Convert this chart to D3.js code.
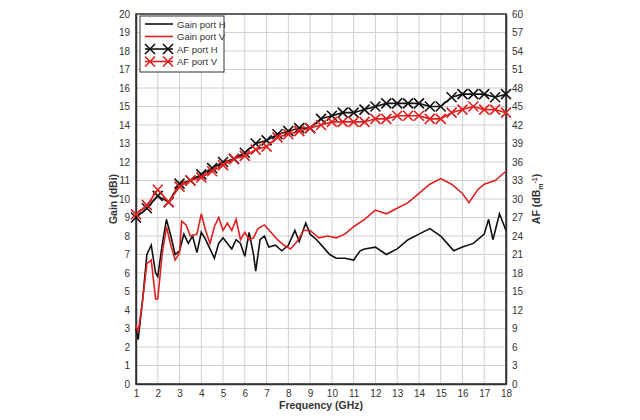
<!DOCTYPE html>
<html><head><meta charset="utf-8">
<script src="https://cdn.jsdelivr.net/npm/d3@7"></script>
<style>body{margin:0;background:#fff}svg{font-family:Arial,"Liberation Sans",sans-serif}</style>
</head><body><svg id="c" width="640" height="420"></svg>
<script>
// gain curves, [GHz, dBi]
var gainH = [[1,3],[1.1,2.4],[1.3,4.5],[1.5,7],[1.7,7.5],[1.9,6],[2,5.8],[2.2,7.5],[2.4,8.9],[2.6,8],[2.8,7],[3,7.2],[3.2,8.1],[3.4,7.6],[3.6,8],[3.8,7.1],[4,8.2],[4.2,7.8],[4.4,7.3],[4.6,6.8],[4.8,7.6],[5,7.9],[5.2,7.6],[5.4,7.3],[5.6,7.8],[5.8,7.6],[6,6.9],[6.2,8.2],[6.4,7],[6.5,6.1],[6.7,7.8],[6.9,8],[7.1,7.4],[7.4,7.5],[7.7,7.2],[8,7.5],[8.3,8.3],[8.5,7.7],[8.8,8.7],[9,8.1],[9.3,7.8],[9.6,7.4],[9.9,7],[10.2,6.8],[10.6,6.8],[11,6.7],[11.3,7.2],[11.5,7.3],[12,7.4],[12.5,7],[13,7.3],[13.5,7.8],[14,8.1],[14.5,8.4],[15,8],[15.3,7.6],[15.6,7.2],[16,7.4],[16.5,7.6],[17,8.1],[17.2,8.9],[17.4,7.8],[17.7,9.2],[18,8.3]];
var gainV = [[1,3.2],[1.1,2.8],[1.3,4.5],[1.5,6.5],[1.7,6.7],[1.9,4.6],[2,4.6],[2.2,7],[2.4,8.5],[2.6,7.5],[2.8,6.7],[3,7.1],[3.1,8.8],[3.3,8.6],[3.5,8],[3.8,8.1],[4,9.2],[4.2,8.3],[4.4,7.6],[4.6,8.5],[4.8,9],[5,8.3],[5.2,8.7],[5.4,8.3],[5.6,8.9],[5.8,7.8],[6,8.2],[6.2,7.8],[6.4,7.9],[6.6,8.4],[6.9,8.6],[7.2,8.2],[7.5,7.8],[7.8,7.5],[8.1,7.3],[8.4,7.7],[8.7,8.3],[9,8.3],[9.4,7.9],[9.8,8],[10.2,7.9],[10.6,8.1],[11,8.5],[11.5,8.9],[12,9.4],[12.5,9.2],[13,9.5],[13.5,9.8],[14,10.3],[14.5,10.8],[15,11.1],[15.5,10.8],[16,10.3],[16.3,9.8],[16.7,10.5],[17,10.8],[17.5,11],[18,11.5]];
// antenna factor, [GHz, dB/m]
var afH = [[1,27],[1.5,28.5],[2,30.5],[2.5,29.5],[3,32.5],[3.5,33],[4,34],[4.5,35],[5,36],[5.5,36.5],[6,37.5],[6.5,39],[7,39.5],[7.5,40.5],[8,41],[8.5,41.5],[9,41.5],[9.5,43],[10,43.5],[10.5,44],[11,44],[11.5,44.5],[12,45],[12.5,45.5],[13,45.5],[13.5,45.5],[14,45.5],[14.5,45],[15,45],[15.5,46.5],[16,47],[16.5,47],[17,47],[17.5,46.5],[18,47]];
var afV = [[1,27.5],[1.5,29],[2,31.5],[2.5,29.5],[3,32],[3.5,33],[4,33.5],[4.5,34.5],[5,35.5],[5.5,36.5],[6,37],[6.5,38],[7,38.5],[7.5,40],[8,40.5],[8.5,41],[9,41.5],[9.5,42],[10,42.5],[10.5,42.5],[11,42.5],[11.5,42.5],[12,43],[12.5,43],[13,43.5],[13.5,43.5],[14,43.5],[14.5,43],[15,43],[15.5,44],[16,44.5],[16.5,45],[17,44.5],[17.5,44.5],[18,44]];
var freqTicks = d3.range(1, 19);
var gainTicks = d3.range(0, 21);
var afTicks = d3.range(0, 61, 3);

var svg = d3.select("#c");
var L = 136, R = 506, T = 14, B = 384;
var x = d3.scaleLinear().domain([1, 18]).range([L, R]);
var y = d3.scaleLinear().domain([0, 20]).range([B, T]);
var y2 = d3.scaleLinear().domain([0, 60]).range([B, T]);

// grid
svg.append("g").selectAll("line").data(freqTicks).join("line")
  .attr("x1", d => x(d)).attr("x2", d => x(d)).attr("y1", T).attr("y2", B)
  .attr("stroke", "#d0d0d0");
svg.append("g").selectAll("line").data(gainTicks).join("line")
  .attr("y1", d => y(d)).attr("y2", d => y(d)).attr("x1", L).attr("x2", R)
  .attr("stroke", "#d0d0d0");

// axes
var ax = svg.append("g").attr("transform", "translate(0," + B + ")")
  .call(d3.axisBottom(x).tickValues(freqTicks).tickSize(0).tickPadding(6));
var ayl = svg.append("g").attr("transform", "translate(" + L + ",0)")
  .call(d3.axisLeft(y).tickValues(gainTicks).tickSize(0).tickPadding(6));
var ayr = svg.append("g").attr("transform", "translate(" + R + ",0)")
  .call(d3.axisRight(y2).tickValues(afTicks).tickSize(0).tickPadding(6));
[ax, ayl, ayr].forEach(g => {
  g.select(".domain").attr("stroke", "#333").attr("stroke-width", 1.5);
  g.selectAll("text").attr("font-size", 10).attr("fill", "#333").attr("font-family", "Arial, Liberation Sans, sans-serif");
});
svg.append("rect").attr("x", L).attr("y", T).attr("width", R - L).attr("height", B - T)
  .attr("fill", "none").attr("stroke", "#333").attr("stroke-width", 1.5);

// curves
var lineG = d3.line().x(d => x(d[0])).y(d => y(d[1]));
var lineA = d3.line().x(d => x(d[0])).y(d => y2(d[1]));
svg.append("path").datum(gainH).attr("d", lineG).attr("fill", "none").attr("stroke", "#111").attr("stroke-width", 1.6);
svg.append("path").datum(gainV).attr("d", lineG).attr("fill", "none").attr("stroke", "#e02020").attr("stroke-width", 1.6);

function cross(g, pts, sc, col) {
  g.selectAll("path.m").data(pts).join("path").attr("class", "m")
    .attr("d", d => { var px = x(d[0]), py = sc(d[1]), s = 5;
      return "M" + (px - s) + "," + (py - s) + "L" + (px + s) + "," + (py + s) + "M" + (px - s) + "," + (py + s) + "L" + (px + s) + "," + (py - s); })
    .attr("stroke", col).attr("stroke-width", 1.6).attr("fill", "none");
}
svg.append("path").datum(afH).attr("d", lineA).attr("fill", "none").attr("stroke", "#111").attr("stroke-width", 1.6);
cross(svg.append("g"), afH, y2, "#111");
svg.append("path").datum(afV).attr("d", lineA).attr("fill", "none").attr("stroke", "#e02020").attr("stroke-width", 1.6);
cross(svg.append("g"), afV, y2, "#e02020");

// legend
var lg = svg.append("g").attr("transform", "translate(140,16)");
lg.append("rect").attr("width", 84).attr("height", 56).attr("fill", "#fff").attr("stroke", "#333");
var items = [["Gain port H", "#111", false], ["Gain port V", "#e02020", false], ["AF port H", "#111", true], ["AF port V", "#e02020", true]];
items.forEach((it, i) => {
  var yy = 8 + i * 12.5;
  lg.append("line").attr("x1", 5).attr("x2", 33).attr("y1", yy).attr("y2", yy).attr("stroke", it[1]).attr("stroke-width", 1.6);
  if (it[2]) [10, 28].forEach(cx => lg.append("path")
    .attr("d", "M" + (cx - 5) + "," + (yy - 5) + "L" + (cx + 5) + "," + (yy + 5) + "M" + (cx - 5) + "," + (yy + 5) + "L" + (cx + 5) + "," + (yy - 5))
    .attr("stroke", it[1]).attr("stroke-width", 1.6));
  lg.append("text").attr("x", 37).attr("y", yy + 3.5).attr("font-size", 9.5).attr("fill", "#333").text(it[0]);
});

// axis titles
svg.append("text").attr("x", (L + R) / 2).attr("y", 409).attr("text-anchor", "middle")
  .attr("font-size", 10.5).attr("font-weight", "bold").attr("fill", "#333").text("Frequency (GHz)");
svg.append("text").attr("transform", "translate(117," + (T + B) / 2 + ") rotate(-90)").attr("text-anchor", "middle")
  .attr("font-size", 10.5).attr("font-weight", "bold").attr("fill", "#333").text("Gain (dBi)");
var t2 = svg.append("text").attr("transform", "translate(540," + (T + B) / 2 + ") rotate(-90)").attr("text-anchor", "middle")
  .attr("font-size", 10.5).attr("font-weight", "bold").attr("fill", "#333");
t2.append("tspan").text("AF (dB");
t2.append("tspan").attr("font-size", 7).attr("dy", 3).text("m");
t2.append("tspan").attr("font-size", 7).attr("dy", -6).text("-1");
t2.append("tspan").attr("dy", 3).text(")");
</script></body></html>
